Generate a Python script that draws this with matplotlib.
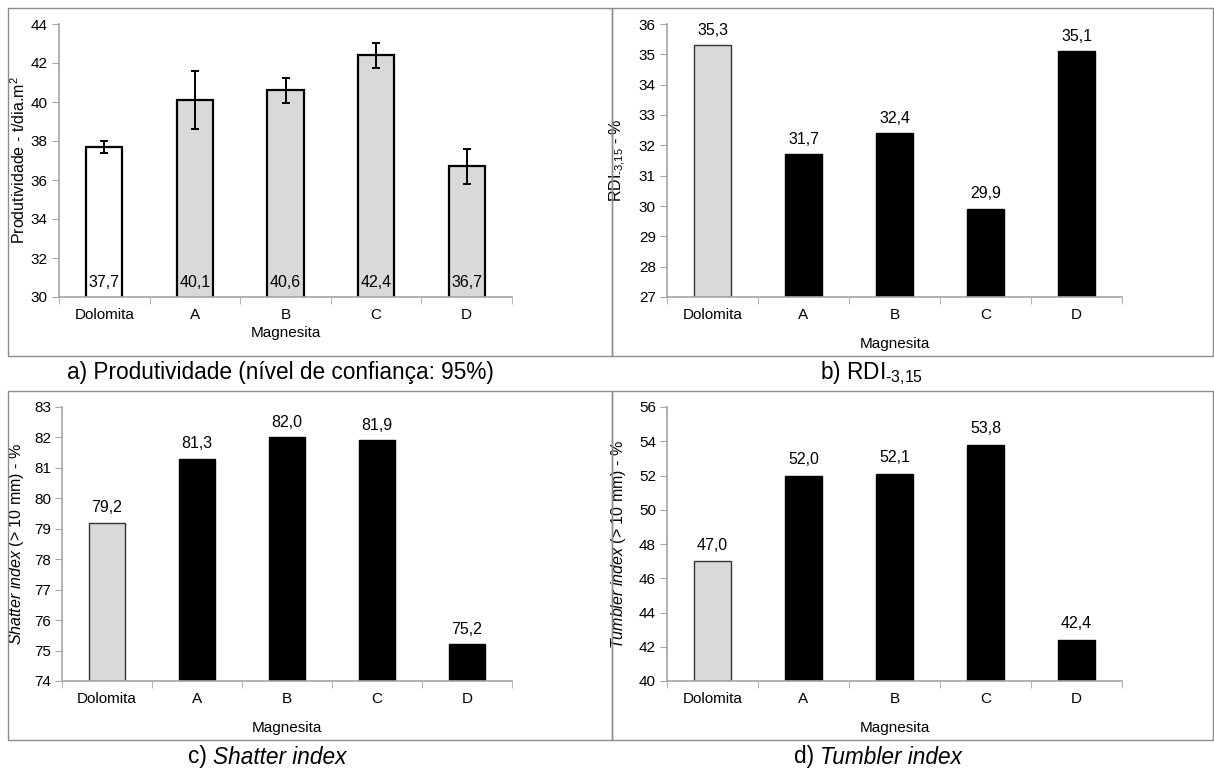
import numpy as np
import matplotlib.pyplot as plt
from matplotlib.patches import Rectangle

plt.rcParams['font.family'] = ['Liberation Sans', 'DejaVu Sans']
plt.rcParams['mathtext.fontset'] = 'custom'
plt.rcParams['mathtext.rm'] = 'Liberation Sans'
plt.rcParams['mathtext.it'] = 'Liberation Sans:italic'

# data
categorias = ['Dolomita', 'A', 'B', 'C', 'D']
produtividade = [37.7, 40.1, 40.6, 42.4, 36.7]
produtividade_erro = [0.3, 1.5, 0.65, 0.65, 0.9]
rdi = [35.3, 31.7, 32.4, 29.9, 35.1]
shatter = [79.2, 81.3, 82.0, 81.9, 75.2]
tumbler = [47.0, 52.0, 52.1, 53.8, 42.4]

W, H = 1214, 774
fig = plt.figure(figsize=(W / 100, H / 100), dpi=100)

def px_axes(x0, y0, x1, y1):
    return fig.add_axes([x0 / W, 1 - y1 / H, (x1 - x0) / W, (y1 - y0) / H])

# panel borders
for (x0, y0, x1, y1) in [(8, 8, 612, 356), (612, 8, 1213, 356),
                         (8, 391, 612, 740), (612, 391, 1213, 740)]:
    fig.patches.append(Rectangle((x0 / W, 1 - y1 / H), (x1 - x0) / W, (y1 - y0) / H,
                                 transform=fig.transFigure, fill=False,
                                 edgecolor='#8c8c8c', linewidth=1.0))

spine_col = '#a6a6a6'
x = np.arange(len(categorias))

def style_axes(ax, ymin, ymax, step):
    ax.set_xlim(-0.5, 4.5)
    ax.set_ylim(ymin, ymax)
    ax.set_yticks(np.arange(ymin, ymax + step / 2, step))
    ax.set_xticks(x)
    ax.set_xticklabels(categorias, fontsize=11)
    ax.set_xticks(np.arange(-0.5, 5, 1), minor=True)
    ax.tick_params(axis='x', which='major', length=0, pad=8)
    ax.tick_params(axis='x', which='minor', length=5, color=spine_col, direction='out')
    ax.tick_params(axis='y', length=5, color=spine_col, labelsize=11, pad=3)
    for s in ['top', 'right']:
        ax.spines[s].set_visible(False)
    for s in ['left', 'bottom']:
        ax.spines[s].set_color(spine_col)
        ax.spines[s].set_linewidth(1.2)

# a) Produtividade
ax = px_axes(59, 24, 512, 297)
cores_a = ['white'] + ['#d9d9d9'] * 4
ax.bar(x, produtividade, width=0.4, color=cores_a, edgecolor='black', linewidth=1.6,
       yerr=produtividade_erro, capsize=3,
       error_kw=dict(ecolor='black', elinewidth=1.4, capthick=1.4))
style_axes(ax, 30, 44, 2)
for xi, v in zip(x, produtividade):
    ax.text(xi, 30.35, f'{v:.1f}'.replace('.', ','), ha='center', va='bottom', fontsize=11.5)
ax.set_ylabel('Produtividade - t/dia.m$^2$', fontsize=11.5, labelpad=2)
ax.set_xlabel('Magnesita', fontsize=11, labelpad=3)

# b) RDI
def panel_preto(ax, vals, ymin, ymax, step, off):
    cores = ['#d9d9d9'] + ['black'] * 4
    bordas = ['#333333'] + ['black'] * 4
    ax.bar(x, [v - ymin for v in vals], bottom=ymin, width=0.4, color=cores,
           edgecolor=bordas, linewidth=1.0)
    style_axes(ax, ymin, ymax, step)
    for xi, v in zip(x, vals):
        ax.text(xi, v + off, f'{v:.1f}'.replace('.', ','), ha='center', va='bottom', fontsize=11.5)

ax = px_axes(667, 24, 1122, 297)
panel_preto(ax, rdi, 27, 36, 1, 0.25)
ax.set_ylabel(r'RDI$_{\text{-3,15}}$ - %', fontsize=11.5, labelpad=8)
ax.set_xlabel('Magnesita', fontsize=11, labelpad=11)

# c) Shatter
ax = px_axes(62, 407, 512, 681)
panel_preto(ax, shatter, 74, 83, 1, 0.25)
ax.set_ylabel(r'$\it{Shatter\ index}$ (> 10 mm) - %', fontsize=11.5, labelpad=6)
ax.set_xlabel('Magnesita', fontsize=11, labelpad=11)

# d) Tumbler
ax = px_axes(667, 407, 1122, 681)
panel_preto(ax, tumbler, 40, 56, 2, 0.5)
ax.set_ylabel(r'$\it{Tumbler\ index}$ (> 10 mm) - %', fontsize=11.5, labelpad=8)
ax.set_xlabel('Magnesita', fontsize=11, labelpad=11)

# legendas dos paineis
fs = 16.3
fig.text(280 / W, 1 - 373 / H, 'a) Produtividade (nível de confiança: 95%)',
         ha='center', va='center', fontsize=fs)
fig.text(872 / W, 1 - 373 / H, r'b) RDI$_{\text{-3,15}}$', ha='center', va='center', fontsize=fs)
fig.text(213 / W, 1 - 757 / H, 'c) ', ha='right', va='center', fontsize=fs)
fig.text(213 / W, 1 - 757 / H, 'Shatter index', ha='left', va='center', fontsize=fs,
         style='italic')
fig.text(820 / W, 1 - 757 / H, 'd) ', ha='right', va='center', fontsize=fs)
fig.text(820 / W, 1 - 757 / H, 'Tumbler index', ha='left', va='center', fontsize=fs,
         style='italic')

fig.savefig('out.png', dpi=100)
